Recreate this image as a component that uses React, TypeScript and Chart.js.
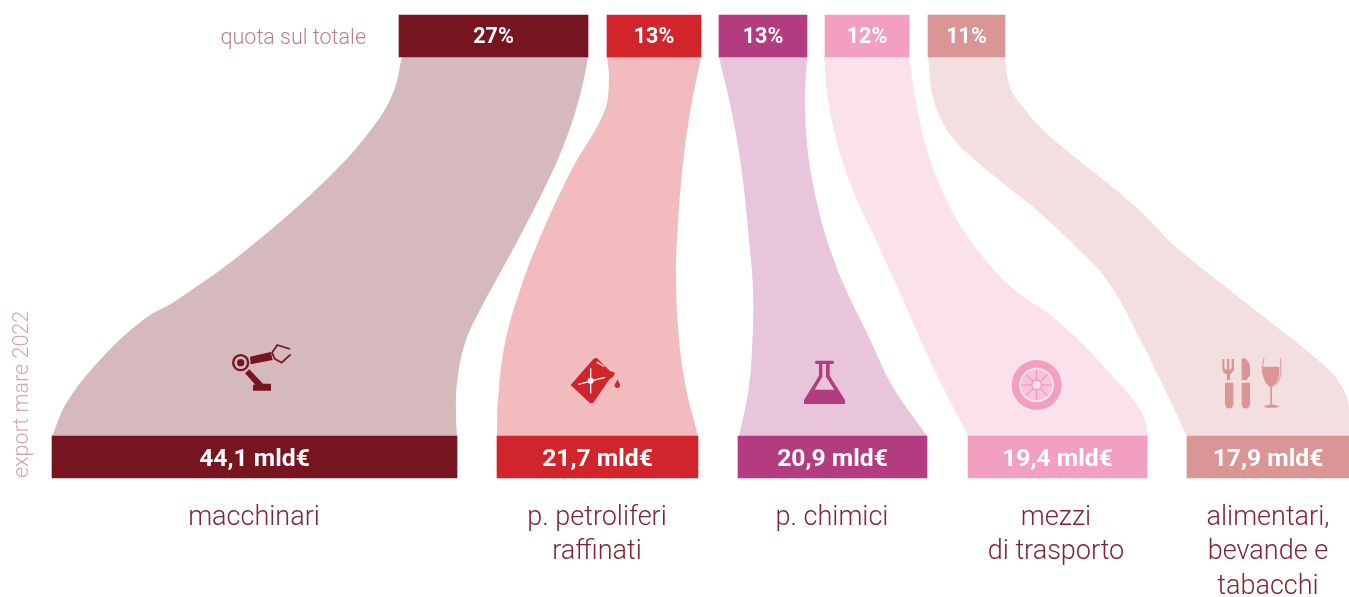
import React, { useEffect, useRef } from "react";
import { Chart, registerables } from "chart.js";

Chart.register(...registerables);

const categories = [["macchinari"], ["p. petroliferi", "raffinati"], ["p. chimici"], ["mezzi", "di trasporto"], ["alimentari,", "bevande e", "tabacchi"]];
const shareLabels = ["27%", "13%", "13%", "12%", "11%"];
const exportLabels = ["44,1 mld€", "21,7 mld€", "20,9 mld€", "19,4 mld€", "17,9 mld€"];
const shareRanges = [[399, 588], [607, 701], [719, 807], [825, 909], [928, 1005]];
const exportRanges = [[52, 457], [497, 698], [738, 927], [968, 1147], [1187, 1349]];
const strong = ["#761520", "#d2252b", "#b33b80", "#f3a0c0", "#da9595"];
const pale = ["#d5b9bd", "#f2bcbf", "#e8c5da", "#fbe1ec", "#f3dfe0"];

const machineryLeft = [[402, 57], [393, 93], [373, 127], [330, 176], [250, 247], [177, 300], [143, 320], [100, 360], [67, 402], [52, 436]];
const machineryRight = [[588, 57], [583, 83], [575, 113], [563, 147], [547, 183], [518, 240], [500, 273], [480, 310], [465, 343], [457, 383], [456, 413], [457, 436]];
const petroleumLeft = [[607, 57], [609, 80], [604, 112], [570, 173], [539, 240], [520, 290], [505, 343], [498, 400], [497, 436]];
const petroleumRight = [[701, 57], [690, 113], [682, 173], [677, 240], [676, 273], [678, 327], [685, 383], [698, 436]];
const chemicalsLeft = [[719, 57], [732, 113], [742, 173], [749, 240], [753, 290], [752, 350], [748, 393], [739, 436]];
const chemicalsRight = [[807, 57], [805, 100], [808, 153], [817, 203], [827, 240], [843, 283], [867, 333], [893, 387], [927, 436]];
const transportLeft = [[824, 57], [828, 100], [840, 153], [857, 200], [876, 240], [903, 300], [933, 367], [968, 436]];
const transportRight = [[909, 57], [917, 107], [930, 160], [950, 207], [970, 240], [1009, 285], [1060, 323], [1119, 383], [1142, 413], [1148, 436]];
const foodLeft = [[928, 57], [933, 97], [947, 130], [967, 153], [1009, 188], [1040, 213], [1079, 250], [1109, 283], [1142, 343], [1187, 436]];
const foodRight = [[1005, 57], [1010, 87], [1023, 107], [1040, 127], [1066, 150], [1136, 207], [1176, 247], [1259, 313], [1326, 367], [1342, 387], [1349, 407], [1349, 436]];

const ribbons = [
  [machineryLeft, machineryRight],
  [petroleumLeft, petroleumRight],
  [chemicalsLeft, chemicalsRight],
  [transportLeft, transportRight],
  [foodLeft, foodRight],
];

const SHARE_ROW = 36;
const EXPORT_ROW = 457;
const LABEL_FIRST_ROW = 518;
const LABEL_STEP = 34.5;
const LABEL_CENTERS = [254, 597, 832, 1056, 1268];

function poly(ctx: CanvasRenderingContext2D, pts: number[][], fill: string) {
  ctx.beginPath();
  pts.forEach(([x, y], i) => (i ? ctx.lineTo(x / 3, y / 3) : ctx.moveTo(x / 3, y / 3)));
  ctx.closePath();
  ctx.fillStyle = fill;
  ctx.fill();
}
function stroke(ctx: CanvasRenderingContext2D, pts: number[][], color: string, lw: number) {
  ctx.beginPath();
  pts.forEach(([x, y], i) => (i ? ctx.lineTo(x / 3, y / 3) : ctx.moveTo(x / 3, y / 3)));
  ctx.strokeStyle = color;
  ctx.lineWidth = lw;
  ctx.lineJoin = "round";
  ctx.stroke();
}
function disc(ctx: CanvasRenderingContext2D, x: number, y: number, r: number, fill: string) {
  ctx.beginPath();
  ctx.arc(x / 3, y / 3, r / 3, 0, Math.PI * 2);
  ctx.fillStyle = fill;
  ctx.fill();
}

function robot(ctx: CanvasRenderingContext2D) {
  const c = strong[0];
  disc(ctx, 122, 68, 26, c);
  disc(ctx, 122, 68, 19, pale[0]);
  disc(ctx, 122, 68, 11, c);
  poly(ctx, [[150, 50], [212, 36], [218, 60], [152, 73]], c);
  stroke(ctx, [[270, 27], [232, 15], [216, 38], [224, 56], [245, 68], [272, 43]], c, 1.8);
  poly(ctx, [[148, 88], [135, 100], [166, 134], [159, 134], [159, 152], [213, 152], [213, 131], [189, 131]], c);
}
function canIcon(ctx: CanvasRenderingContext2D) {
  const c = strong[1];
  poly(ctx, [[62, 135], [130, 57], [140, 53], [180, 93], [195, 98], [190, 110], [178, 118], [130, 188], [120, 190]], c);
  stroke(ctx, [[140, 66], [163, 80]], pale[1], 1.6);
  disc(ctx, 202, 136, 8, c);
  poly(ctx, [[203, 118], [194, 134], [210, 134]], c);
  stroke(ctx, [[122, 85], [122, 160]], "#ffffff", 1.3);
  stroke(ctx, [[85, 133], [165, 112]], "#ffffff", 1.3);
  disc(ctx, 122, 122, 9, "#ffffff");
}
function flask(ctx: CanvasRenderingContext2D) {
  const c = strong[2];
  poly(ctx, [[77, 47], [130, 47], [132, 52], [130, 57], [119, 57], [119, 92], [165, 165], [165, 177], [42, 177], [42, 165], [87, 92], [87, 57], [77, 57], [75, 52]], c);
  poly(ctx, [[97, 57], [108, 57], [108, 95], [133, 134], [74, 134], [97, 95]], pale[2]);
}
function wheel(ctx: CanvasRenderingContext2D) {
  const c = strong[3];
  const l = pale[3];
  const cx = 110;
  const cy = 120;
  disc(ctx, cx, cy, 75, c);
  disc(ctx, cx, cy, 52, l);
  disc(ctx, cx, cy, 46, "#f7c4da");
  const spokes = [0, 1, 2, 3, 4, 5, 6, 7];
  spokes.forEach((k) => {
    const a = (k * Math.PI) / 4;
    stroke(ctx, [[cx + Math.cos(a) * 14, cy + Math.sin(a) * 14], [cx + Math.cos(a) * 46, cy + Math.sin(a) * 46]], c, 1.5);
  });
  disc(ctx, cx, cy, 17, c);
  disc(ctx, cx, cy, 12, l);
}
function food(ctx: CanvasRenderingContext2D) {
  const c = strong[4];
  poly(ctx, [[67, 42], [73, 42], [73, 70], [81, 75], [81, 42], [88, 42], [88, 75], [95, 70], [95, 42], [102, 42], [102, 75], [95, 85], [90, 88], [90, 105], [81, 105], [81, 88], [72, 84], [67, 75]], c);
  ctx.beginPath();
  ctx.moveTo(75 / 3, 113 / 3);
  ctx.lineTo(100 / 3, 113 / 3);
  ctx.lineTo(100 / 3, 178 / 3);
  ctx.arc(87.5 / 3, 178 / 3, 12.5 / 3, 0, Math.PI);
  ctx.closePath();
  ctx.fillStyle = c;
  ctx.fill();
  poly(ctx, [[125, 40], [135, 40], [145, 50], [150, 62], [150, 90], [140, 105], [125, 105]], c);
  ctx.beginPath();
  ctx.moveTo(125 / 3, 113 / 3);
  ctx.lineTo(150 / 3, 113 / 3);
  ctx.lineTo(150 / 3, 178 / 3);
  ctx.arc(137.5 / 3, 178 / 3, 12.5 / 3, 0, Math.PI);
  ctx.closePath();
  ctx.fillStyle = c;
  ctx.fill();
  poly(ctx, [[188, 65], [238, 65], [238, 90], [230, 112], [218, 125], [208, 125], [196, 112], [188, 90]], c);
  stroke(ctx, [[192, 40], [187, 65], [187, 85]], c, 1);
  stroke(ctx, [[242, 40], [243, 85], [236, 108], [226, 122]], c, 1);
  poly(ctx, [[211, 125], [216, 125], [216, 178], [211, 178]], c);
  poly(ctx, [[211, 178], [216, 178], [240, 184], [228, 188], [200, 188], [190, 184]], c);
}

const icons = [
  { draw: robot, ox: 200, oy: 340 },
  { draw: canIcon, ox: 550, oy: 340 },
  { draw: flask, ox: 790, oy: 345 },
  { draw: wheel, ox: 1000, oy: 345 },
  { draw: food, ox: 1200, oy: 345 },
];

const annotations = {
  id: "annotations",
  afterDatasetsDraw(chart: any) {
    const { ctx, scales } = chart;
    const px = (v: number) => scales.x.getPixelForValue(v);
    const py = (v: number) => scales.y.getPixelForValue(v);
    ctx.save();
    ctx.textAlign = "center";
    ctx.textBaseline = "middle";

    ctx.fillStyle = "#ffffff";
    ctx.font = "700 21.5px Roboto";
    shareLabels.forEach((t, i) => {
      ctx.fillText(t, px((shareRanges[i][0] + shareRanges[i][1]) / 2), py(SHARE_ROW) + 2);
    });
    ctx.font = "700 24.7px Roboto";
    exportLabels.forEach((t, i) => {
      ctx.fillText(t, px((exportRanges[i][0] + exportRanges[i][1]) / 2), py(EXPORT_ROW) + 2.5);
    });

    ctx.fillStyle = "#7f2433";
    ctx.font = "300 27px Roboto";
    categories.forEach((lines, i) => {
      lines.forEach((line, j) => {
        ctx.fillText(line, px(LABEL_CENTERS[i]), py(LABEL_FIRST_ROW + j * LABEL_STEP));
      });
    });

    ctx.fillStyle = "#b98089";
    ctx.font = "300 21.5px Roboto";
    ctx.textAlign = "right";
    ctx.fillText("quota sul totale", px(366), py(SHARE_ROW) + 3);
    ctx.save();
    ctx.translate(px(23), py(478));
    ctx.rotate(-Math.PI / 2);
    ctx.textAlign = "left";
    ctx.fillStyle = "#d2a9ae";
    ctx.fillText("export mare 2022", 0, 0);
    ctx.restore();

    icons.forEach(({ draw, ox, oy }) => {
      ctx.save();
      ctx.translate(px(ox), py(oy));
      draw(ctx);
      ctx.restore();
    });
    ctx.restore();
  },
};

export default function App() {
  const ref = useRef<HTMLCanvasElement>(null);
  useEffect(() => {
    const toPoints = (arr: number[][]) => arr.map(([x, y]) => ({ x, y }));
    const lineBase = {
      type: "line",
      borderWidth: 0,
      pointRadius: 0,
      tension: 0.4,
      order: 2,
    };
    const ribbonSets = ribbons.flatMap(([left, right], i) => [
      { ...lineBase, label: categories[i].join(" ") + " sx", data: toPoints(left), backgroundColor: pale[i], borderColor: pale[i], fill: "+1" },
      { ...lineBase, label: categories[i].join(" ") + " dx", data: toPoints(right), backgroundColor: pale[i], borderColor: pale[i], fill: false },
    ]);
    const barBase = { type: "bar", backgroundColor: strong, barThickness: 42, grouped: false, borderWidth: 0, order: 1 };
    const chart = new Chart(ref.current!, {
      type: "bar",
      data: {
        datasets: [
          ...ribbonSets,
          { ...barBase, label: "quota sul totale", data: shareRanges.map((r) => ({ x: r, y: SHARE_ROW })) },
          { ...barBase, label: "export mare 2022", data: exportRanges.map((r) => ({ x: r, y: EXPORT_ROW })) },
        ],
      } as any,
      options: {
        indexAxis: "y",
        responsive: false,
        animation: false,
        layout: { padding: 0 },
        plugins: { legend: { display: false }, tooltip: { enabled: false } },
        scales: {
          x: { type: "linear", display: false, min: 0, max: 1349, offset: false },
          y: { type: "linear", display: false, min: 0, max: 597, reverse: true, offset: false },
        },
      } as any,
      plugins: [annotations],
    });
    return () => chart.destroy();
  }, []);
  return (
    <canvas
      ref={ref}
      width={1349}
      height={597}
      style={{ position: "fixed", left: 0, top: 0, display: "block", background: "#ffffff" }}
    />
  );
}
